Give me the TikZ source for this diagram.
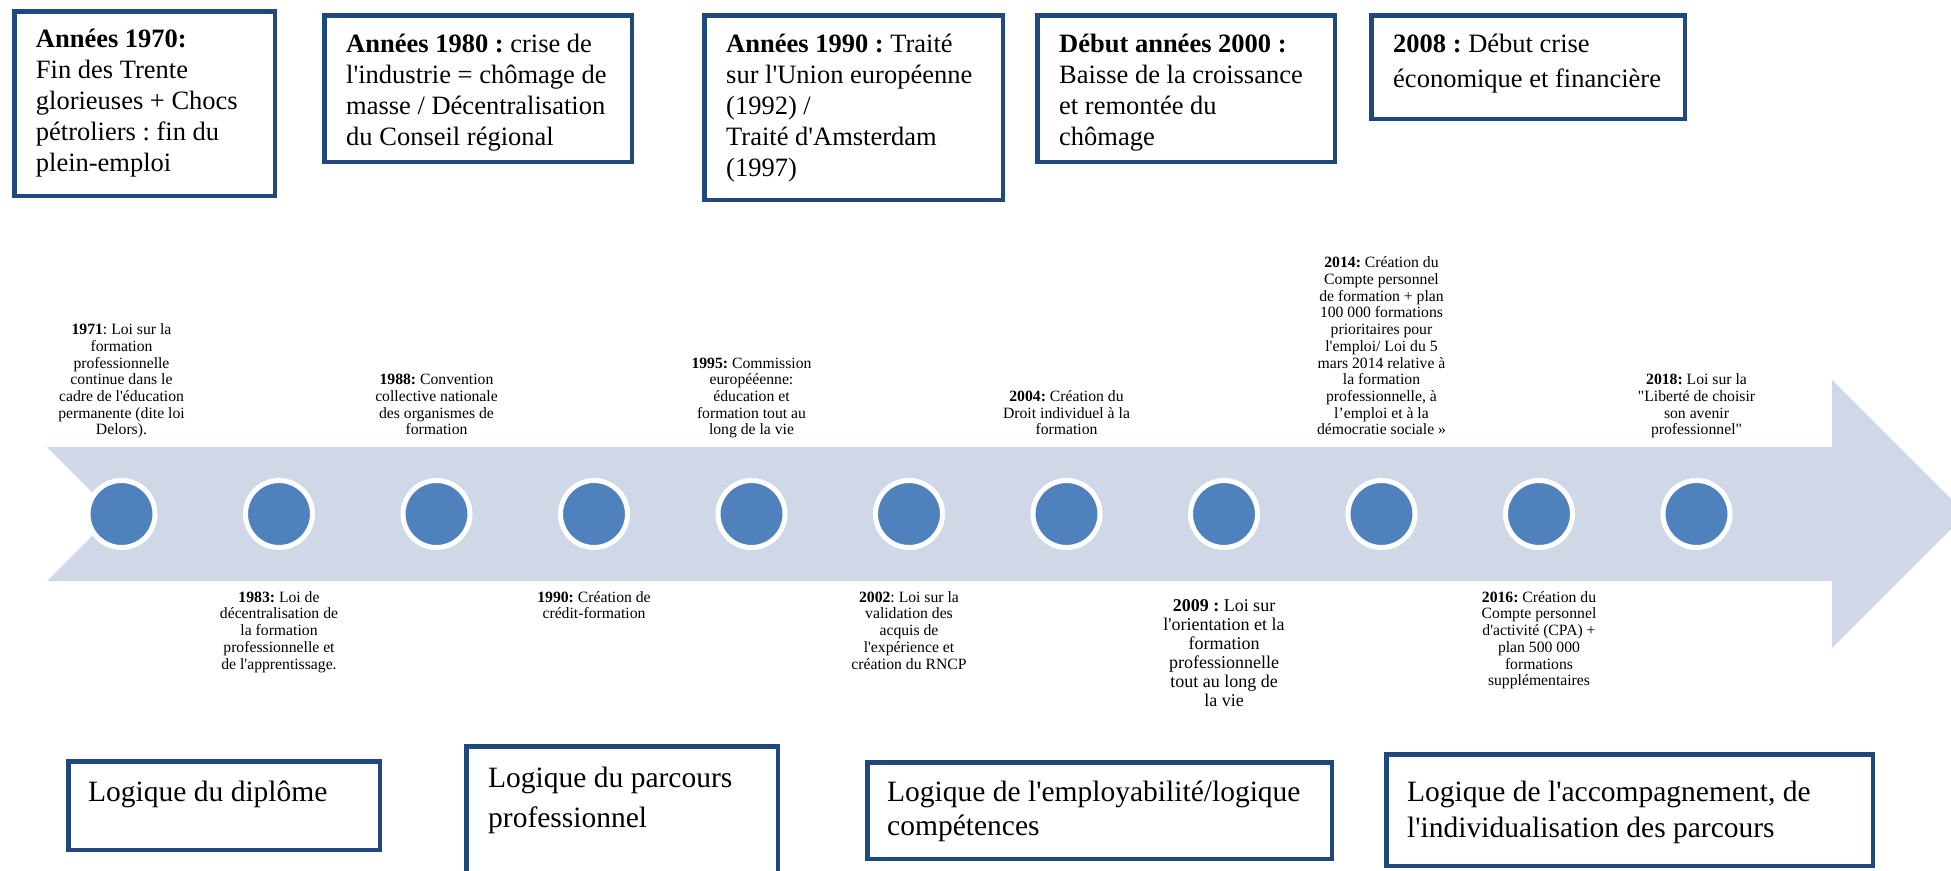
\documentclass[tikz,border=0pt]{standalone}
\usepackage{fontspec}
\setmainfont{Liberation Serif}[Ligatures=TeXOff]
\frenchspacing
\definecolor{boxblue}{RGB}{31,73,125}
\definecolor{dotblue}{RGB}{79,129,189}
\definecolor{arrowfill}{RGB}{208,216,232}
\newcommand\myTopStrut{\rule{0pt}{30pt}}
\newcommand\myBigStrut{\rule{0pt}{33pt}}
\newcommand\myUpStrut{\rule{0pt}{16pt}}
\newcommand\myDownStrut{\rule[-6pt]{0pt}{6pt}}
\begin{document}
\frenchspacing
\begin{tikzpicture}[x=1pt,y=-1pt,
  boxst/.style={rectangle, draw=boxblue, line width=4.5pt, fill=white, inner sep=0pt, outer sep=0pt, anchor=north west},
  toptxt/.style={anchor=north west, inner sep=0pt, align=left, font=\fontsize{26.5}{31}\selectfont},
  bottxt/.style={anchor=north west, inner sep=0pt, align=left, font=\fontsize{29.5}{34}\selectfont},
  dot/.style={circle, fill=dotblue, draw=white, line width=5pt, minimum size=67pt, inner sep=0pt},
  lab/.style={inner sep=0pt, align=center, font=\fontsize{15.7}{16.7}\selectfont},
  up/.style={lab, anchor=south},
  dn/.style={lab, anchor=north}]
\useasboundingbox (0,0) rectangle (1951,870);
\clip (0,0) rectangle (1951,870);
\fill[white] (0,0) rectangle (1951,870);

% timeline arrow
\fill[arrowfill] (47,447) -- (1832,447) -- (1832,380) -- (1966,514) -- (1832,648) -- (1832,581) -- (47,581) -- (114,514) -- cycle;

% dots
\foreach \i/\x in {1/121.5,2/279,3/436.5,4/594,5/751.5,6/909,7/1066.5,8/1224,9/1381.5,10/1539,11/1696.5}
  \node[dot] (c\i) at (\x,514) {};

% labels above
\node[up] (e1971) at (121.5,441) {\textbf{1971}: Loi sur la\\formation\\professionnelle\\continue dans le\\cadre de l'éducation\\permanente (dite loi\\Delors).\myDownStrut};
\node[up] (e1988) at (436.5,441) {\textbf{1988:} Convention\\collective nationale\\des organismes de\\formation\myDownStrut};
\node[up] (e1995) at (751.5,441) {\textbf{1995:} Commission\\europééenne:\\éducation et\\formation tout au\\long de la vie\myDownStrut};
\node[up] (e2004) at (1066.5,441) {\textbf{2004:} Création du\\Droit individuel à la\\formation\myDownStrut};
\node[up] (e2014) at (1381.5,441) {\textbf{2014:} Création du\\Compte personnel\\de formation + plan\\100 000 formations\\prioritaires pour\\l'emploi/ Loi du 5\\mars 2014 relative à\\la formation\\professionnelle, à\\l’emploi et à la\\démocratie sociale »\myDownStrut};
\node[up] (e2018) at (1696.5,441) {\textbf{2018:} Loi sur la\\"Liberté de choisir\\son avenir\\professionnel"\myDownStrut};

% labels below
\node[dn] (e1983) at (279,586) {\myUpStrut\textbf{1983:} Loi de\\décentralisation de\\la formation\\professionnelle et\\de l'apprentissage.};
\node[dn] (e1990) at (594,586) {\myUpStrut\textbf{1990:} Création de\\crédit-formation};
\node[dn] (e2002) at (909,586) {\myUpStrut\textbf{2002}: Loi sur la\\validation des\\acquis de\\l'expérience et\\création du RNCP};
\node[dn, font=\fontsize{18}{19}\selectfont] (e2009) at (1224,594) {\rule{0pt}{17pt}\textbf{2009 :} Loi sur\\l'orientation et la\\formation\\professionnelle\\tout au long de\\la vie};
\node[dn] (e2016) at (1539,586) {\myUpStrut\textbf{2016:} Création du\\Compte personnel\\d'activité (CPA) +\\plan 500 000\\formations\\supplémentaires};

% top boxes
\node[boxst, minimum width=260.5pt, minimum height=184.5pt] (b1) at (14.25,11.25) {};
\node[boxst, minimum width=307.5pt, minimum height=146.5pt] (b2) at (324.25,15.25) {};
\node[boxst, minimum width=298.5pt, minimum height=184.5pt] (b3) at (704.25,15.25) {};
\node[boxst, minimum width=297.5pt, minimum height=146.5pt] (b4) at (1037.25,15.25) {};
\node[boxst, minimum width=313.5pt, minimum height=103.5pt] (b5) at (1371.25,15.25) {};

\node[toptxt] (t1) at (35.7,17) {\myTopStrut\textbf{Années 1970:}\\Fin des Trente\\glorieuses + Chocs\\pétroliers : fin du\\plein-emploi};
\node[toptxt] (t2) at (346,22) {\myTopStrut\textbf{Années 1980 :} crise de\\l'industrie = chômage de\\masse / Décentralisation\\du Conseil régional};
\node[toptxt] (t3) at (726,22) {\myTopStrut\textbf{Années 1990 :} Traité\\sur l'Union européenne\\(1992) /\\Traité d'Amsterdam\\(1997)};
\node[toptxt] (t4) at (1059,22) {\myTopStrut\textbf{Début années 2000 :}\\Baisse de la croissance\\et remontée du\\chômage};
\node[toptxt, font=\fontsize{26.5}{35}\selectfont] (t5) at (1393,22) {\myTopStrut\textbf{2008 :} Début crise\\économique et financière};

% bottom boxes
\node[boxst, minimum width=311.5pt, minimum height=88.5pt] (l1) at (68.25,761.25) {};
\node[boxst, minimum width=311.5pt, minimum height=150pt] (l2) at (466.25,746.25) {};
\node[boxst, minimum width=464.5pt, minimum height=96.5pt] (l3) at (867.25,762.25) {};
\node[boxst, minimum width=486.5pt, minimum height=111.5pt] (l4) at (1386.25,754.25) {};

\node[bottxt] (s1) at (88,768) {\myBigStrut Logique du diplôme};
\node[bottxt, font=\fontsize{29.5}{40}\selectfont] (s2) at (488,754) {\myBigStrut Logique du parcours\\professionnel};
\node[bottxt] (s3) at (887,768) {\myBigStrut Logique de l'employabilité/logique\\compétences};
\node[bottxt, font=\fontsize{29.5}{36}\selectfont] (s4) at (1407,768) {\myBigStrut Logique de l'accompagnement, de\\l'individualisation des parcours};
\end{tikzpicture}
\end{document}
